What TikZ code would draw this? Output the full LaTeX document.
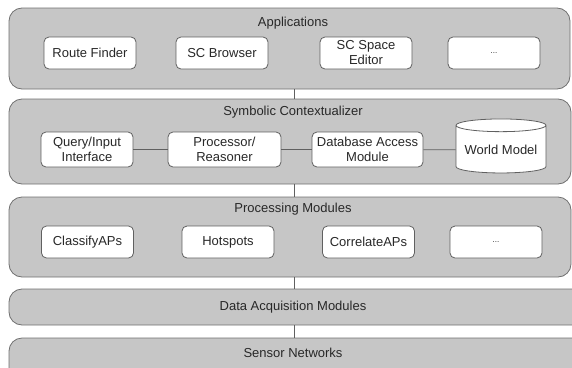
\documentclass[tikz,border=0pt]{standalone}
\usepackage{fontspec}
\setmainfont{Liberation Sans}
\usetikzlibrary{shapes.geometric}
\definecolor{layerfill}{RGB}{198,198,198}
\definecolor{layerline}{RGB}{112,112,112}
\definecolor{boxline}{RGB}{96,96,96}
\definecolor{inktext}{RGB}{40,40,40}

\begin{document}
\begin{tikzpicture}[x=1pt, y=-1pt, font=\fontsize{13}{15}\selectfont, text=inktext,
    layer/.style={rectangle, rounded corners=13pt, draw=layerline, fill=layerfill, line width=0.8pt},
    module/.style={rectangle, rounded corners=5pt, draw=boxline, fill=white, line width=0.8pt, align=center, minimum width=92pt, minimum height=32pt, inner sep=1pt},
    link/.style={draw=boxline, line width=0.8pt}]
    \clip (0,0) rectangle (572,367);
    % Place layers
    \node [layer, minimum width=561pt, minimum height=81pt] (app) at (289.5,48.5) {};
    \node [layer, minimum width=562pt, minimum height=85pt] (sc) at (290,141.5) {};
    \node [layer, minimum width=562pt, minimum height=80pt] (proc) at (290,237) {};
    \node [layer, minimum width=600pt, minimum height=36pt] (daq) at (309,307) {};
    \node [layer, minimum width=600pt, minimum height=52pt] (sens) at (309,364) {};
    % Layer titles
    \node (appT) at (293,23) {Applications};
    \node (scT) at (293,112) {Symbolic Contextualizer};
    \node (procT) at (293,209) {Processing Modules};
    \node (daqT) at (293,307) {Data Acquisition Modules};
    \node (sensT) at (293,353) {Sensor Networks};
    % Applications
    \node [module] (route) at (90,53) {Route Finder};
    \node [module] (browser) at (222,53) {SC Browser};
    \node [module] (editor) at (366,53) {SC Space\\Editor};
    \node [module] (appMore) at (494,53) {\footnotesize ...};
    % Symbolic Contextualizer
    \node [module, minimum height=35pt] (query) at (87,149.5) {Query/Input\\Interface};
    \node [module, minimum width=113pt, minimum height=35pt] (reason) at (224.5,149.5) {Processor/\\Reasoner};
    \node [module, minimum width=111pt, minimum height=35pt] (dbam) at (367.5,149.5) {Database Access\\Module};
    \node [cylinder, shape border rotate=90, aspect=0.17, draw=boxline, fill=white, line width=0.8pt,
        minimum width=90pt, minimum height=54pt, inner sep=1pt] (world) at (501,150) {World Model};
    % Processing Modules
    \node [module] (classify) at (87.5,242) {ClassifyAPs};
    \node [module] (hot) at (228,242) {Hotspots};
    \node [module] (correlate) at (368.5,242) {CorrelateAPs};
    \node [module] (procMore) at (496,242) {\footnotesize ...};
    % Connectors
    \coordinate (bus) at (294,0);
    \path [link] (query) -- (reason);
    \path [link] (reason) -- (dbam);
    \path [link] (dbam) -- (world);
    \path [link] (app.south -| bus) -- (sc.north -| bus);
    \path [link] (sc.south -| bus) -- (proc.north -| bus);
    \path [link] (proc.south -| bus) -- (daq.north -| bus);
    \path [link] (daq.south -| bus) -- (sens.north -| bus);
\end{tikzpicture}
\end{document}
